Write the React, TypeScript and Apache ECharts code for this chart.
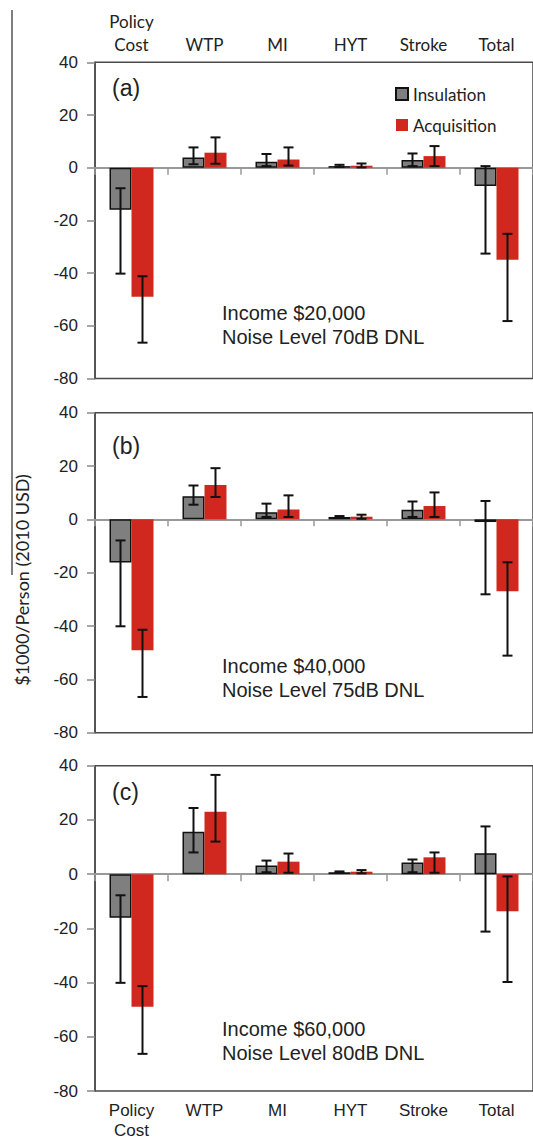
import React, { useEffect, useRef } from "react";
import * as echarts from "echarts";

const categories = ["Policy\nCost", "WTP", "MI", "HYT", "Stroke", "Total"];
const yTicks = { min: -80, max: 40, interval: 20 };

// Panel (a): Income $20,000, 70dB DNL
const insA = [-16.0, 3.9, 2.3, 0.6, 2.9, -6.9];
const insALo = [-40.2, 1.3, 0.6, 0.3, 0.6, -32.6];
const insAHi = [-7.8, 7.7, 5.2, 1.1, 5.4, 0.6];
const acqA = [-49.0, 5.7, 3.1, 0.75, 4.4, -34.9];
const acqALo = [-66.4, 1.5, 0.8, 0.1, 0.6, -58.2];
const acqAHi = [-41.2, 11.5, 7.7, 1.6, 8.2, -25.1];

// Panel (b): Income $40,000, 75dB DNL
const insB = [-16.2, 8.7, 2.7, 0.9, 3.6, -1.0];
const insBLo = [-40.1, 5.5, 0.9, 0.5, 0.9, -28.1];
const insBHi = [-7.9, 12.7, 5.9, 1.25, 6.7, 6.9];
const acqB = [-49.1, 12.9, 3.7, 1.0, 5.0, -27.0];
const acqBLo = [-66.6, 8.4, 0.9, 0.2, 0.9, -51.1];
const acqBHi = [-41.4, 19.2, 9.0, 1.75, 10.1, -16.1];

// Panel (c): Income $60,000, 80dB DNL
const insC = [-16.1, 15.6, 3.2, 0.7, 4.3, 7.7];
const insCLo = [-40.1, 8.0, 0.7, 0.4, 0.7, -21.2];
const insCHi = [-7.8, 24.4, 5.0, 1.0, 5.4, 17.6];
const acqC = [-48.9, 23.0, 4.6, 0.9, 6.2, -13.7];
const acqCLo = [-66.3, 12.0, 0.5, 0.3, 0.5, -39.8];
const acqCHi = [-41.3, 36.6, 7.6, 1.5, 8.0, -0.85];

const panelLabels = ["(a)", "(b)", "(c)"];
const incomeLines = ["Income $20,000", "Income $40,000", "Income $60,000"];
const noiseLines = ["Noise Level 70dB DNL", "Noise Level 75dB DNL", "Noise Level 80dB DNL"];
const yTitle = "$1000/Person (2010 USD)";

const GRAY = "#7f7f7f";
const RED = "#d0281e";
const BAR_W = 22;

const panels = [
  { ins: insA, insLo: insALo, insHi: insAHi, acq: acqA, acqLo: acqALo, acqHi: acqAHi, top: 62.3, height: 316.2, labelY: 90, textY: 313 },
  { ins: insB, insLo: insBLo, insHi: insBHi, acq: acqB, acqLo: acqBLo, acqHi: acqBHi, top: 412.7, height: 320, labelY: 448, textY: 666 },
  { ins: insC, insLo: insCLo, insHi: insCHi, acq: acqC, acqLo: acqCLo, acqHi: acqCHi, top: 765.7, height: 327.6, labelY: 794, textY: 1029 },
];

function errRender(offset: number) {
  return (params: any, api: any) => {
    const x = api.value(0);
    const pLo = api.coord([x, api.value(1)]);
    const pHi = api.coord([x, api.value(2)]);
    const cx = pLo[0] + offset;
    const hw = 5;
    const style = { stroke: "#111", lineWidth: 2 };
    return {
      type: "group",
      children: [
        { type: "line", shape: { x1: cx, y1: pHi[1], x2: cx, y2: pLo[1] }, style },
        { type: "line", shape: { x1: cx - hw, y1: pHi[1], x2: cx + hw, y2: pHi[1] }, style },
        { type: "line", shape: { x1: cx - hw, y1: pLo[1], x2: cx + hw, y2: pLo[1] }, style },
      ],
    };
  };
}

export default function App() {
  const ref = useRef<HTMLDivElement>(null);
  useEffect(() => {
    document.body.style.margin = "0";
    const chart = echarts.init(ref.current!, null, { renderer: "svg" });

    const grids: any[] = [];
    const xAxes: any[] = [];
    const yAxes: any[] = [];
    const series: any[] = [];
    const graphics: any[] = [];

    panels.forEach((p, i) => {
      grids.push({
        left: 95,
        width: 450,
        top: p.top,
        height: p.height,
        show: true,
        borderColor: "#4a4a4a",
        borderWidth: 1.5,
        backgroundColor: "transparent",
      });
      yAxes.push({
        type: "value",
        gridIndex: i,
        min: yTicks.min,
        max: yTicks.max,
        interval: yTicks.interval,
        axisLine: { show: true, lineStyle: { color: "#4a4a4a", width: 1.5 } },
        axisTick: { show: true, length: 8, lineStyle: { color: "#888", width: 1.5 } },
        splitLine: { show: false },
        axisLabel: { margin: 17, fontFamily: "Liberation Sans", fontSize: 17, color: "#222" },
      });
      const zeroIdx = xAxes.length;
      xAxes.push({
        type: "category",
        gridIndex: i,
        data: categories,
        position: i === 2 ? "top" : "bottom",
        axisLine: { onZero: true, lineStyle: { color: "#999", width: 2 } },
        axisTick: { show: true, inside: i === 2, length: 7, lineStyle: { color: "#999", width: 1.5 } },
        axisLabel: { show: false },
        splitLine: { show: false },
      });
      if (i === 0) {
        xAxes.push({
          type: "category",
          gridIndex: i,
          data: categories,
          position: "top",
          axisLine: { show: false, onZero: false },
          axisTick: { show: false },
          axisLabel: { margin: 6, fontFamily: "Lato", fontSize: 17, lineHeight: 23, color: "#222" },
        });
      }
      if (i === 2) {
        xAxes.push({
          type: "category",
          gridIndex: i,
          data: categories,
          position: "bottom",
          axisLine: { show: false, onZero: false },
          axisTick: { show: false },
          axisLabel: { margin: 9, fontFamily: "Liberation Sans", fontSize: 17, lineHeight: 20, color: "#222" },
        });
      }
      series.push({
        name: "Insulation",
        type: "bar",
        xAxisIndex: zeroIdx,
        yAxisIndex: i,
        data: p.ins,
        barWidth: BAR_W,
        barGap: "0%",
        itemStyle: { color: GRAY, borderColor: "#111", borderWidth: 1.5 },
        z: 2,
      });
      series.push({
        name: "Acquisition",
        type: "bar",
        xAxisIndex: zeroIdx,
        yAxisIndex: i,
        data: p.acq,
        barWidth: BAR_W,
        barGap: "0%",
        itemStyle: { color: RED },
        z: 2,
      });
      series.push({
        type: "custom",
        xAxisIndex: zeroIdx,
        yAxisIndex: i,
        renderItem: errRender(-BAR_W / 2),
        data: categories.map((_, k) => [k, p.insLo[k], p.insHi[k]]),
        encode: { x: 0, y: [1, 2] },
        z: 5,
        silent: true,
      });
      series.push({
        type: "custom",
        xAxisIndex: zeroIdx,
        yAxisIndex: i,
        renderItem: errRender(BAR_W / 2),
        data: categories.map((_, k) => [k, p.acqLo[k], p.acqHi[k]]),
        encode: { x: 0, y: [1, 2] },
        z: 5,
        silent: true,
      });
      graphics.push({
        type: "text",
        left: 112,
        top: p.labelY - 14,
        style: { text: panelLabels[i], font: "23px 'Liberation Sans'", fill: "#222" },
      });
      graphics.push({
        type: "text",
        left: 222,
        top: p.textY - 12,
        style: {
          text: incomeLines[i] + "\n" + noiseLines[i],
          font: "20px 'Liberation Sans'",
          lineHeight: 24,
          fill: "#222",
        },
      });
    });

    graphics.push({
      type: "line",
      shape: { x1: 12, y1: 10, x2: 12, y2: 575 },
      style: { stroke: "#555", lineWidth: 1.5 },
    });
    graphics.push({
      type: "text",
      x: 22,
      y: 580,
      rotation: Math.PI / 2,
      style: {
        text: yTitle,
        font: "18px Lato",
        fill: "#222",
        align: "center",
        verticalAlign: "middle",
      },
    });

    chart.setOption({
      animation: false,
      backgroundColor: "#fff",
      grid: grids,
      xAxis: xAxes,
      yAxis: yAxes,
      series,
      legend: {
        data: ["Insulation", "Acquisition"],
        orient: "vertical",
        left: 395,
        top: 84,
        padding: 0,
        itemWidth: 12,
        itemHeight: 12,
        itemGap: 11,
        icon: "rect",
        textStyle: { fontFamily: "Lato", fontSize: 17, color: "#222", lineHeight: 20 },
        selectedMode: false,
      },
      graphic: graphics,
    });
    return () => chart.dispose();
  }, []);
  return <div ref={ref} style={{ width: 533, height: 1140 }} />;
}
